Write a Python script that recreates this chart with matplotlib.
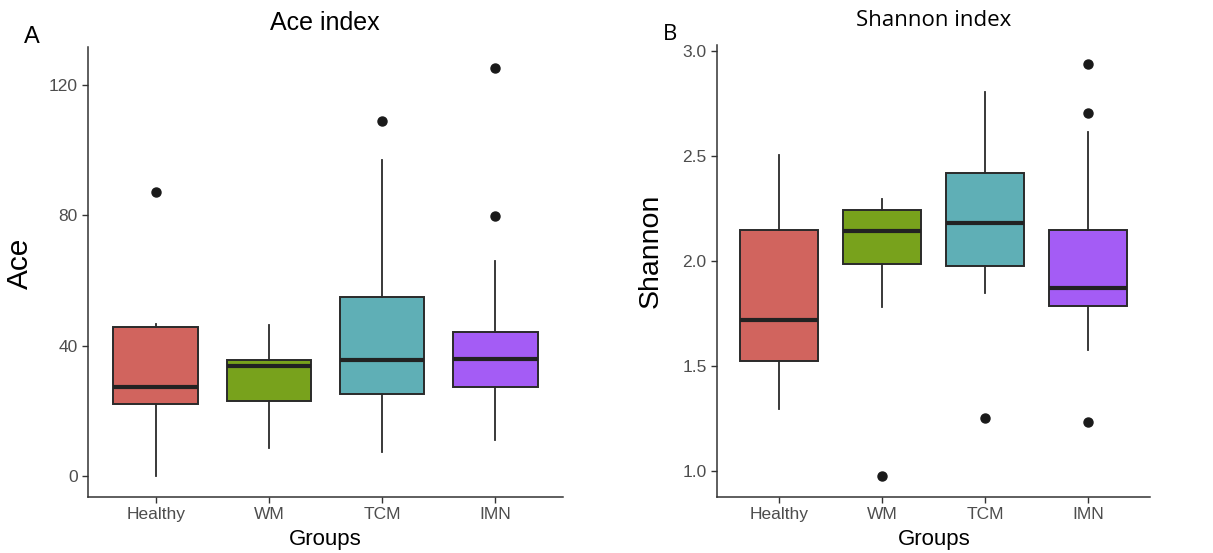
import matplotlib
matplotlib.use("Agg")
import matplotlib.pyplot as plt

groups = ["Healthy", "WM", "TCM", "IMN"]
colors = ["#D1645E", "#78A21C", "#5FAFB6", "#A45CF5"]

# Ace index: whisker low, Q1, median, Q3, whisker high, outliers
ace_low = [0.0, 8.7, 7.6, 11.3]
ace_q1 = [22.3, 23.1, 25.3, 27.5]
ace_med = [27.4, 33.7, 35.8, 35.9]
ace_q3 = [45.7, 35.6, 54.9, 44.2]
ace_high = [46.6, 46.3, 96.9, 65.9]
ace_out = [[87.1], [], [109.0], [79.7, 125.3]]

# Shannon index
sh_low = [1.294, 1.779, 1.846, 1.575]
sh_q1 = [1.525, 1.987, 1.977, 1.788]
sh_med = [1.721, 2.142, 2.181, 1.871]
sh_q3 = [2.150, 2.244, 2.420, 2.150]
sh_high = [2.505, 2.298, 2.804, 2.615]
sh_out = [[], [0.973], [1.254], [2.940, 2.706, 1.234]]


def stats(low, q1, med, q3, high, out):
    return [dict(whislo=a, q1=b, med=c, q3=d, whishi=e, fliers=f)
            for a, b, c, d, e, f in zip(low, q1, med, q3, high, out)]


def draw(ax, st, ylim, yticks, ytl):
    bp = ax.bxp(st, positions=range(1, 5), widths=0.75, patch_artist=True,
                showcaps=False,
                boxprops=dict(edgecolor="#2a2a2a", linewidth=1.4),
                medianprops=dict(color="#222222", linewidth=3),
                whiskerprops=dict(color="#2a2a2a", linewidth=1.3),
                flierprops=dict(marker="o", markerfacecolor="#1a1a1a",
                                markeredgecolor="#1a1a1a", markersize=6.5))
    for patch, c in zip(bp["boxes"], colors):
        patch.set_facecolor(c)
    ax.set_xlim(0.4, 4.6)
    ax.set_ylim(*ylim)
    ax.set_yticks(yticks)
    ax.set_yticklabels(ytl)
    ax.set_xticks(range(1, 5))
    ax.set_xticklabels(groups)
    for s in ["top", "right"]:
        ax.spines[s].set_visible(False)
    for s in ["left", "bottom"]:
        ax.spines[s].set_color("#333333")
        ax.spines[s].set_linewidth(1.1)
    ax.tick_params(colors="#333333", labelcolor="#4D4D4D", labelsize=12.5,
                   length=4, width=1.0)


fig = plt.figure(figsize=(12.13, 5.53), dpi=100)
plt.rcParams["font.family"] = ["Liberation Sans", "DejaVu Sans"]

ax1 = fig.add_axes([88 / 1213, 56 / 553, 475 / 1213, 450 / 553])
draw(ax1, stats(ace_low, ace_q1, ace_med, ace_q3, ace_high, ace_out),
     (-6.3, 131.6), [0, 40, 80, 120], ["0", "40", "80", "120"])

ax2 = fig.add_axes([717 / 1213, 56 / 553, 433 / 1213, 452 / 553])
draw(ax2, stats(sh_low, sh_q1, sh_med, sh_q3, sh_high, sh_out),
     (0.875, 3.03), [1.0, 1.5, 2.0, 2.5, 3.0], ["1.0", "1.5", "2.0", "2.5", "3.0"])

fig.text(325 / 1213, 1 - 23 / 553, "Ace index", ha="center", va="center", fontsize=18)
fig.text(934 / 1213, 1 - 21 / 553, "Shannon index", ha="center", va="center",
         fontsize=16, family=["Open Sans", "DejaVu Sans"])
fig.text(32 / 1213, 1 - 37 / 553, "A", ha="center", va="center", fontsize=17)
fig.text(670 / 1213, 1 - 35 / 553, "B", ha="center", va="center", fontsize=16,
         family=["Open Sans", "DejaVu Sans"])
fig.text(325 / 1213, 1 - 540 / 553, "Groups", ha="center", va="center", fontsize=16)
fig.text(934 / 1213, 1 - 540 / 553, "Groups", ha="center", va="center", fontsize=16)
fig.text(20 / 1213, 1 - 263 / 553, "Ace", ha="center", va="center", fontsize=21.5,
         rotation=90)
fig.text(651 / 1213, 1 - 251 / 553, "Shannon", ha="center", va="center", fontsize=20.5,
         rotation=90)

fig.savefig("out.png", dpi=100)
